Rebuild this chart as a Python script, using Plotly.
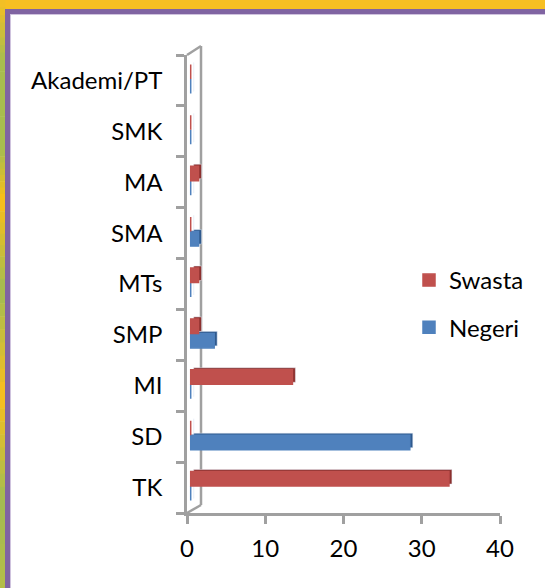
import plotly.graph_objects as go

# ---- data ----
categories = ["TK", "SD", "MI", "SMP", "MTs", "SMA", "MA", "SMK", "Akademi/PT"]
negeri = [0, 28, 0, 3, 0, 1, 0, 0, 0]
swasta = [33, 0, 13, 1, 1, 0, 1, 0, 0]
x_ticks = [0, 10, 20, 30, 40]

# ---- layout geometry ----
W, H = 545, 588
L, R, T, B = 187, 45, 55, 75
pw, ph = W - L - R, H - T - B
XMAX = 40
ux = pw / XMAX
ncat = len(categories)
uy = ph / ncat

def px(p):
    return (p - L) / pw

def py(p):
    return (H - B - p) / ph

RED, RED_D = "#C0504D", "#8C302E"
BLUE, BLUE_D = "#4F81BD", "#2F5A8E"
AX = "#A0A0A0"
FONT = "Lato"
FS = 24

# shift of 3D bars (pixels)
dx_main, dy_main = 3.7, 1.5
dx_side, dy_side = dx_main + 3.0, dy_main + 2.0

fig = go.Figure()

# helper trace so that the front axes hold the categories
fig.add_trace(go.Scatter(x=swasta, y=categories, mode="none", showlegend=False,
                         hoverinfo="skip", xaxis="x", yaxis="y"))

# side faces (darker, shifted up/right) on x2/y2
fig.add_trace(go.Bar(y=categories, x=negeri, orientation="h", marker_color=BLUE_D,
                     showlegend=False, hoverinfo="skip", xaxis="x2", yaxis="y2"))
fig.add_trace(go.Bar(y=categories, x=swasta, orientation="h", marker_color=RED_D,
                     showlegend=False, hoverinfo="skip", xaxis="x2", yaxis="y2"))
# front faces on x3/y3
fig.add_trace(go.Bar(y=categories, x=negeri, orientation="h",
                     marker=dict(color=BLUE, line=dict(color=BLUE, width=1.5)),
                     name="Negeri", legendgroup="n", legendrank=2, xaxis="x3", yaxis="y3"))
fig.add_trace(go.Bar(y=categories, x=swasta, orientation="h",
                     marker=dict(color=RED, line=dict(color=RED, width=1.5)),
                     name="Swasta", legendgroup="s", legendrank=1, xaxis="x3", yaxis="y3"))

def hidden_x(dx):
    s = dx / ux
    return dict(range=[-s, XMAX - s], visible=False, overlaying="x", fixedrange=True)

def hidden_y(dy):
    s = dy / uy
    return dict(type="category", categoryorder="array", categoryarray=categories,
                range=[-0.5 - s, ncat - 0.5 - s], visible=False, overlaying="y")

shapes = []
# frame decoration
shapes.append(dict(type="rect", xref="paper", yref="paper", x0=px(0), x1=px(W),
                   y0=py(0), y1=py(9.5), fillcolor="#F7BF22", line_width=0, layer="below"))
# left gradient strip (yellow <-> green)
stops = [(0, "#F7BF22"), (60, "#A8BD4E"), (150, "#A8BD4E"), (200, "#FBBF18"),
         (290, "#A3BC52"), (395, "#F9BF1E"), (500, "#A3BC52"), (588, "#B4BD48")]
def lerp(c1, c2, t):
    a = [int(c1[i:i + 2], 16) for i in (1, 3, 5)]
    b = [int(c2[i:i + 2], 16) for i in (1, 3, 5)]
    return "#" + "".join(f"{round(a[k] + (b[k] - a[k]) * t):02X}" for k in range(3))
for i in range(len(stops) - 1):
    y0, c0 = stops[i]
    y1, c1 = stops[i + 1]
    n = 8
    for j in range(n):
        ya = y0 + (y1 - y0) * j / n
        yb = y0 + (y1 - y0) * (j + 1) / n
        shapes.append(dict(type="rect", xref="paper", yref="paper", x0=px(0), x1=px(5.5),
                           y0=py(ya), y1=py(yb + 0.5), fillcolor=lerp(c0, c1, (j + 0.5) / n),
                           line_width=0, layer="below"))
# purple border
shapes.append(dict(type="rect", xref="paper", yref="paper", x0=px(5), x1=px(W),
                   y0=py(9), y1=py(14), fillcolor="#8064A2", line_width=0, layer="below"))
shapes.append(dict(type="rect", xref="paper", yref="paper", x0=px(5), x1=px(10),
                   y0=py(9), y1=py(H), fillcolor="#8064A2", line_width=0, layer="below"))
shapes.append(dict(type="rect", xref="paper", yref="paper", x0=px(10), x1=px(W),
                   y0=py(14), y1=py(15), fillcolor="#CFC3DE", line_width=0, layer="below"))
shapes.append(dict(type="rect", xref="paper", yref="paper", x0=px(10), x1=px(11),
                   y0=py(14), y1=py(H), fillcolor="#CFC3DE", line_width=0, layer="below"))

# 3D back wall lines
wall = dict(color=AX, width=2.5)
bx, btop, bbot = 201, 46, 505
shapes.append(dict(type="line", xref="paper", yref="paper", x0=px(bx), x1=px(bx),
                   y0=py(btop), y1=py(bbot), line=wall, layer="below"))
shapes.append(dict(type="line", xref="paper", yref="paper", x0=0, x1=px(bx),
                   y0=1, y1=py(btop), line=wall, layer="below"))
shapes.append(dict(type="line", xref="paper", yref="paper", x0=0, x1=px(bx),
                   y0=0, y1=py(bbot), line=wall, layer="below"))

fig.update_layout(
    width=W, height=H,
    margin=dict(l=L, r=R, t=T, b=B, autoexpand=False),
    paper_bgcolor="white", plot_bgcolor="rgba(0,0,0,0)",
    font=dict(family=FONT, size=FS, color="black"),
    barmode="group", bargap=0.43, bargroupgap=0,
    showlegend=True,
    legend=dict(x=px(409), xanchor="left", y=py(258), yanchor="top",
                traceorder="grouped", tracegroupgap=13,
                bgcolor="rgba(0,0,0,0)", font=dict(family=FONT, size=FS, color="black")),
    xaxis=dict(range=[0, XMAX], tickvals=x_ticks, ticktext=[str(v) for v in x_ticks],
               ticks="outside", ticklen=8, tickwidth=2.5, tickcolor=AX,
               showline=True, linecolor=AX, linewidth=2.5, showgrid=False, zeroline=False,
               ticklabelstandoff=4, fixedrange=True),
    yaxis=dict(type="category", categoryorder="array", categoryarray=categories,
               range=[-0.5, ncat - 0.5], tickson="boundaries",
               ticks="outside", ticklen=8, tickwidth=2.5, tickcolor=AX,
               showline=True, linecolor=AX, linewidth=2.5, showgrid=False, zeroline=False,
               ticklabelstandoff=17),
    xaxis2=hidden_x(dx_side), yaxis2=hidden_y(dy_side),
    xaxis3=hidden_x(dx_main), yaxis3=hidden_y(dy_main),
    shapes=shapes,
)

fig.write_html("out.html", config={"displayModeBar": False},
               post_script="document.body.style.margin='0';")
